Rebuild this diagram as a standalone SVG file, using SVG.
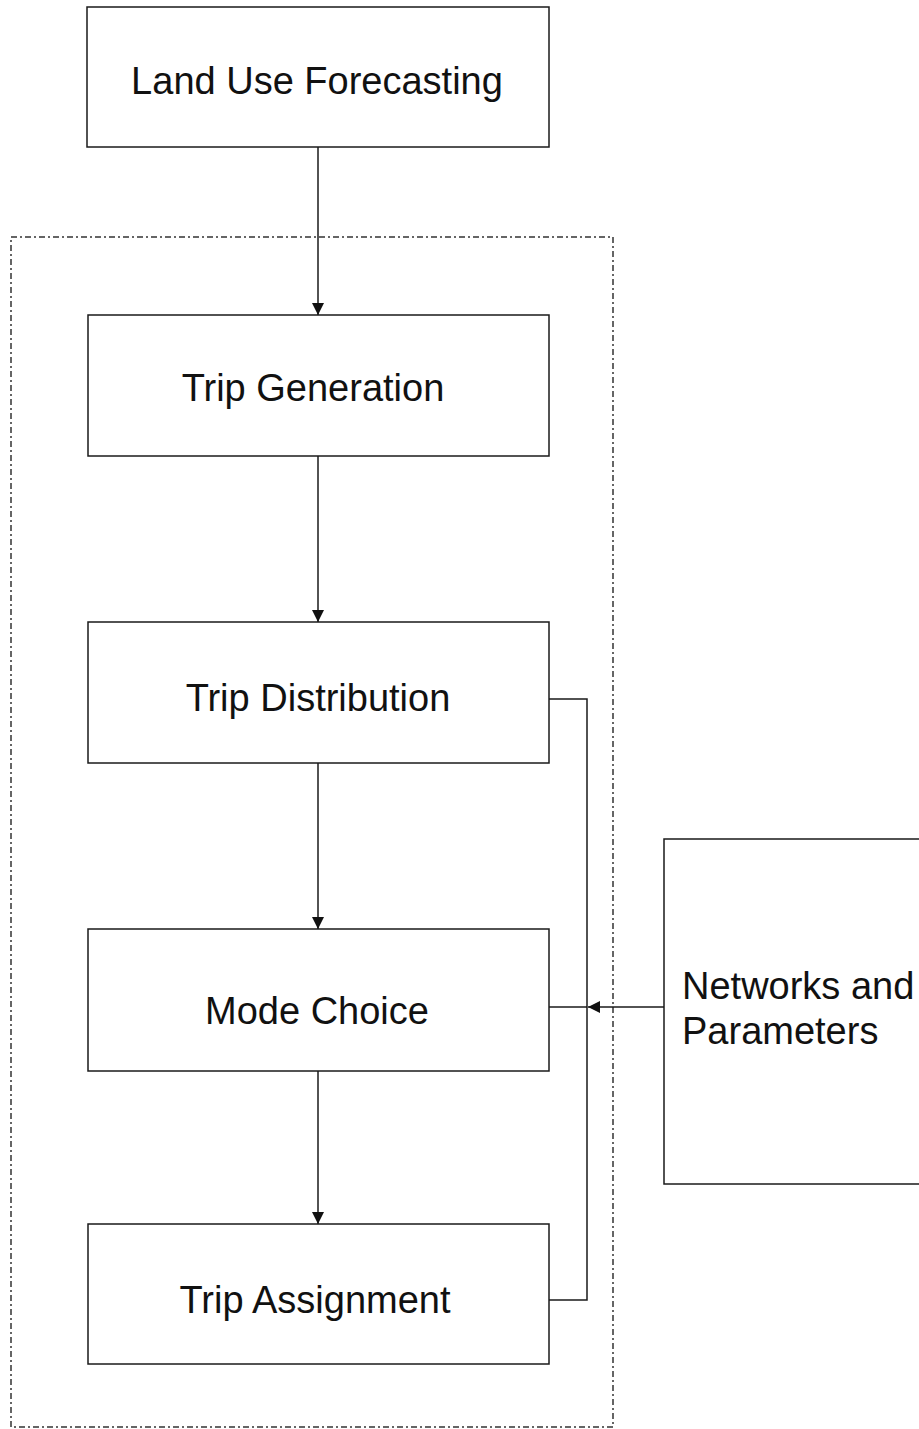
<svg xmlns="http://www.w3.org/2000/svg" width="919" height="1429" viewBox="0 0 919 1429">
<defs>
<style>
.box{fill:#fff;stroke:#1a1a1a;stroke-width:1.5}
.lbl{font-family:"Liberation Sans",Arial,sans-serif;font-size:38px;fill:#111}
.mid{text-anchor:middle}
.wire{fill:none;stroke:#1a1a1a;stroke-width:1.5}
.frame{fill:none;stroke:#333;stroke-width:1.5;stroke-dasharray:6 3 2 3}
</style>
<marker id="ah" viewBox="0 0 12 12" refX="12" refY="6" markerWidth="12" markerHeight="12" markerUnits="userSpaceOnUse" orient="auto">
<path d="M0,0 L12,6 L0,12 Z" fill="#111"/>
</marker>
</defs>
<rect width="919" height="1429" fill="#fff"/>
<rect class="frame" x="11" y="237" width="602" height="1190"/>
<g id="n-landuse"><rect class="box" x="87" y="7" width="462" height="140"/><text class="lbl mid" x="317" y="94">Land Use Forecasting</text></g>
<g id="n-tripgen"><rect class="box" x="88" y="315" width="461" height="141"/><text class="lbl mid" x="313" y="401">Trip Generation</text></g>
<g id="n-tripdist"><rect class="box" x="88" y="622" width="461" height="141"/><text class="lbl mid" x="318" y="711">Trip Distribution</text></g>
<g id="n-mode"><rect class="box" x="88" y="929" width="461" height="142"/><text class="lbl mid" x="317" y="1024">Mode Choice</text></g>
<g id="n-assign"><rect class="box" x="88" y="1224" width="461" height="140"/><text class="lbl mid" x="315" y="1313">Trip Assignment</text></g>
<g id="n-networks"><rect class="box" x="664" y="839" width="300" height="345"/><text class="lbl" x="682" y="999">Networks and</text><text class="lbl" x="682" y="1044">Parameters</text></g>
<g id="connectors">
<line class="wire" x1="318" y1="147" x2="318" y2="315" marker-end="url(#ah)"/>
<line class="wire" x1="318" y1="456" x2="318" y2="622" marker-end="url(#ah)"/>
<line class="wire" x1="318" y1="763" x2="318" y2="929" marker-end="url(#ah)"/>
<line class="wire" x1="318" y1="1071" x2="318" y2="1224" marker-end="url(#ah)"/>
<polyline class="wire" points="549,699 587,699 587,1300 549,1300"/>
<line class="wire" x1="549" y1="1007" x2="587" y2="1007"/>
<line class="wire" x1="664" y1="1007" x2="588" y2="1007" marker-end="url(#ah)"/>
</g>
</svg>
